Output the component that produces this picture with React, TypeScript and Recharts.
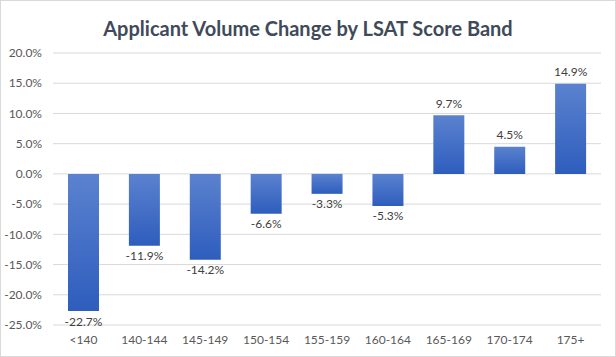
import React from "react";
import { BarChart, Bar, XAxis, YAxis, CartesianGrid, LabelList } from "recharts";

const categories = ["<140", "140-144", "145-149", "150-154", "155-159", "160-164", "165-169", "170-174", "175+"];
const changes = [-22.7, -11.9, -14.2, -6.6, -3.3, -5.3, 9.7, 4.5, 14.9];
const yTicks = [-25, -20, -15, -10, -5, 0, 5, 10, 15, 20];
const title = "Applicant Volume Change by LSAT Score Band";

const data = categories.map((c, i) => ({ band: c, change: changes[i] }));

const FONT = "Lato, 'Open Sans', sans-serif";

const renderLabel = (props: any) => {
  const { x, y, width, height, value } = props;
  const cx = x + width / 2;
  const neg = value < 0;
  const endY = neg ? y + height : y;
  const ty = neg ? Math.max(y, y + height) + 10 : Math.min(y, y + height) - 12;
  return (
    <text
      x={cx}
      y={ty}
      textAnchor="middle"
      dominantBaseline="central"
      fill="#404040"
      fontSize={12}
      fontFamily={FONT}
    >
      {value.toFixed(1) + "%"}
    </text>
  );
};

export default function App() {
  return (
    <div
      style={{
        position: "absolute",
        left: 0,
        top: 0,
        width: 616,
        height: 357,
        background: "#fff",
        fontFamily: FONT,
      }}
    >
      <div
        style={{
          position: "absolute",
          left: 0,
          top: 0,
          width: 616,
          height: 357,
          boxSizing: "border-box",
          border: "1px solid #d9d9d9",
          pointerEvents: "none",
          zIndex: 2,
        }}
      />
      <div
        style={{
          position: "absolute",
          left: 0,
          top: 14,
          width: 616,
          textAlign: "center",
          fontSize: 20,
          fontWeight: 700,
          color: "#404a5a",
          lineHeight: "28px",
          zIndex: 1,
        }}
      >
        {title}
      </div>
      <BarChart
        width={616}
        height={357}
        data={data}
        margin={{ top: 53, right: 15, bottom: 0, left: 0 }}
      >
        <defs>
          <linearGradient id="barGrad" x1="0" y1="0" x2="0" y2="1">
            <stop offset="0%" stopColor="#5b82cf" />
            <stop offset="100%" stopColor="#2e5dbd" />
          </linearGradient>
        </defs>
        <CartesianGrid vertical={false} stroke="#d9d9d9" strokeWidth={1} />
        <XAxis
          dataKey="band"
          axisLine={false}
          tickLine={false}
          height={32}
          tickMargin={4}
          tick={{ fill: "#595959", fontSize: 12, fontFamily: FONT }}
          interval={0}
        />
        <YAxis
          width={53}
          domain={[-25, 20]}
          ticks={yTicks}
          axisLine={false}
          tickLine={false}
          tickMargin={5}
          tickFormatter={(v: number) => v.toFixed(1) + "%"}
          tick={{ fill: "#595959", fontSize: 12, fontFamily: FONT }}
        />
        <Bar dataKey="change" fill="url(#barGrad)" barSize={31} isAnimationActive={false}>
          <LabelList dataKey="change" content={renderLabel} />
        </Bar>
      </BarChart>
    </div>
  );
}
